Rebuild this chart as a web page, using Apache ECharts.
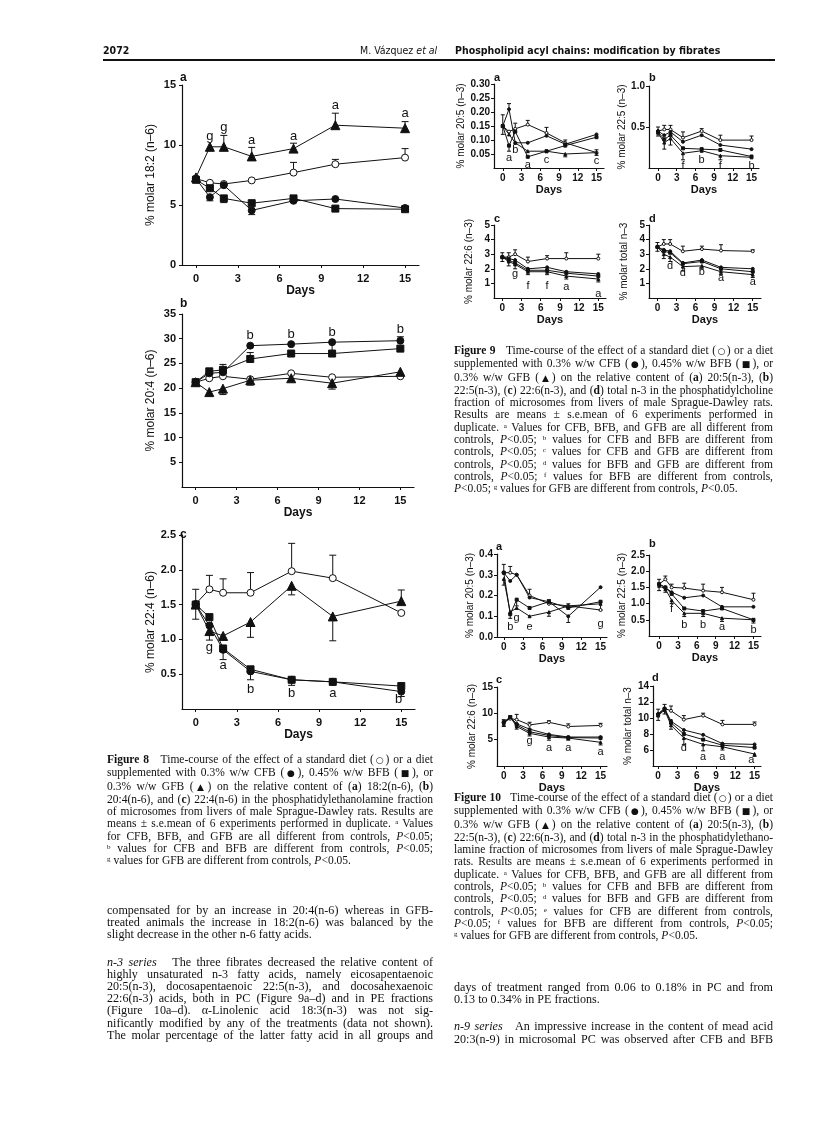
<!DOCTYPE html>
<html>
<head>
<meta charset="utf-8">
<script src="https://cdn.jsdelivr.net/npm/echarts@6/dist/echarts.min.js"></script>
<style>
html, body { margin: 0; padding: 0; background: #fff; }
#page { position: relative; width: 816px; height: 1147px; overflow: hidden; }
#chart { position: absolute; left: 0; top: 0; width: 816px; height: 1147px; }
.hdr { position: absolute; font-family: "Liberation Sans Narrow", "DejaVu Sans Condensed", "Liberation Sans", sans-serif; font-size: 10.5px; color: #111; white-space: nowrap; }
.rule { position: absolute; left: 103px; top: 59px; width: 672px; height: 1.5px; background: #111; }
.txt { position: absolute; font-family: "Liberation Serif", "DejaVu Serif", serif; color: #111; }
.txt div { text-align: justify; text-align-last: justify; white-space: nowrap; }
.txt div.end { text-align-last: left; word-spacing: 0; }
.cap { font-size: 11.5px; line-height: 12.3px; word-spacing: -0.8px; }
.body { font-size: 12.1px; line-height: 12.2px; word-spacing: -1px; }
.sup { font-size: 7px; vertical-align: 3px; line-height: 0; }
.sym { font-family: "DejaVu Sans", sans-serif; font-size: 9px; }
.gap { height: 15px; }
</style>
</head>
<body>
<div id="page">
  <div id="chart"></div>

  <div class="hdr" style="left:103px;top:44px;font-weight:bold;">2072</div>
  <div class="hdr" style="left:360px;top:44px;">M. Vázquez <i>et al</i></div>
  <div class="hdr" style="left:455px;top:44px;font-weight:bold;">Phospholipid acyl chains: modification by fibrates</div>
  <div class="rule"></div>

  <div class="txt cap" style="left:107px;top:753px;width:326px;">
    <div><b>Figure 8</b>&nbsp;&nbsp; Time-course of the effect of a standard diet (<span class="sym">○</span>) or a diet</div>
    <div>supplemented with 0.3% w/w CFB (<span class="sym">●</span>), 0.45% w/w BFB (<span class="sym">■</span>), or</div>
    <div>0.3% w/w GFB (<span class="sym">▲</span>) on the relative content of (<b>a</b>) 18:2(n-6), (<b>b</b>)</div>
    <div>20:4(n-6), and (<b>c</b>) 22:4(n-6) in the phosphatidylethanolamine fraction</div>
    <div>of microsomes from livers of male Sprague-Dawley rats. Results are</div>
    <div>means ± s.e.mean of 6 experiments performed in duplicate. <span class="sup">a</span> Values</div>
    <div>for CFB, BFB, and GFB are all different from controls, <i>P</i>&lt;0.05;</div>
    <div><span class="sup">b</span> values for CFB and BFB are different from controls, <i>P</i>&lt;0.05;</div>
    <div class="end"><span class="sup">g</span> values for GFB are different from controls, <i>P</i>&lt;0.05.</div>
  </div>

  <div class="txt body" style="left:107px;top:904px;width:326px;">
    <div>compensated for by an increase in 20:4(n-6) whereas in GFB-</div>
    <div>treated animals the increase in 18:2(n-6) was balanced by the</div>
    <div class="end">slight decrease in the other n-6 fatty acids.</div>
    <div class="gap"></div>
    <div><i>n-3 series</i>&nbsp;&nbsp; The three fibrates decreased the relative content of</div>
    <div>highly unsaturated n-3 fatty acids, namely eicosapentaenoic</div>
    <div>20:5(n-3), docosapentaenoic 22:5(n-3), and docosahexaenoic</div>
    <div>22:6(n-3) acids, both in PC (Figure 9a–d) and in PE fractions</div>
    <div>(Figure 10a–d). α-Linolenic acid 18:3(n-3) was not sig-</div>
    <div>nificantly modified by any of the treatments (data not shown).</div>
    <div>The molar percentage of the latter fatty acid in all groups and</div>
  </div>

  <div class="txt cap" style="left:454px;top:344px;width:319px;">
    <div><b>Figure 9</b>&nbsp;&nbsp; Time-course of the effect of a standard diet (<span class="sym">○</span>) or a diet</div>
    <div>supplemented with 0.3% w/w CFB (<span class="sym">●</span>), 0.45% w/w BFB (<span class="sym">■</span>), or</div>
    <div>0.3% w/w GFB (<span class="sym">▲</span>) on the relative content of (<b>a</b>) 20:5(n-3), (<b>b</b>)</div>
    <div>22:5(n-3), (<b>c</b>) 22:6(n-3), and (<b>d</b>) total n-3 in the phosphatidylcholine</div>
    <div>fraction of microsomes from livers of male Sprague-Dawley rats.</div>
    <div>Results are means ± s.e.mean of 6 experiments performed in</div>
    <div>duplicate. <span class="sup">a</span> Values for CFB, BFB, and GFB are all different from</div>
    <div>controls, <i>P</i>&lt;0.05; <span class="sup">b</span> values for CFB and BFB are different from</div>
    <div>controls, <i>P</i>&lt;0.05; <span class="sup">c</span> values for CFB and GFB are different from</div>
    <div>controls, <i>P</i>&lt;0.05; <span class="sup">d</span> values for BFB and GFB are different from</div>
    <div>controls, <i>P</i>&lt;0.05; <span class="sup">f</span> values for BFB are different from controls,</div>
    <div class="end"><i>P</i>&lt;0.05; <span class="sup">g</span> values for GFB are different from controls, <i>P</i>&lt;0.05.</div>
  </div>

  <div class="txt cap" style="left:454px;top:791px;width:319px;">
    <div><b>Figure 10</b>&nbsp;&nbsp; Time-course of the effect of a standard diet (<span class="sym">○</span>) or a diet</div>
    <div>supplemented with 0.3% w/w CFB (<span class="sym">●</span>), 0.45% w/w BFB (<span class="sym">■</span>), or</div>
    <div>0.3% w/w GFB (<span class="sym">▲</span>) on the relative content of (<b>a</b>) 20:5(n-3), (<b>b</b>)</div>
    <div>22:5(n-3), (<b>c</b>) 22:6(n-3), and (<b>d</b>) total n-3 in the phosphatidylethano-</div>
    <div>lamine fraction of microsomes from livers of male Sprague-Dawley</div>
    <div>rats. Results are means ± s.e.mean of 6 experiments performed in</div>
    <div>duplicate. <span class="sup">a</span> Values for CFB, BFB, and GFB are all different from</div>
    <div>controls, <i>P</i>&lt;0.05; <span class="sup">b</span> values for CFB and BFB are different from</div>
    <div>controls, <i>P</i>&lt;0.05; <span class="sup">d</span> values for BFB and GFB are different from</div>
    <div>controls, <i>P</i>&lt;0.05; <span class="sup">e</span> values for CFB are different from controls,</div>
    <div><i>P</i>&lt;0.05; <span class="sup">f</span> values for BFB are different from controls, <i>P</i>&lt;0.05;</div>
    <div class="end"><span class="sup">g</span> values for GFB are different from controls, <i>P</i>&lt;0.05.</div>
  </div>

  <div class="txt body" style="left:454px;top:981px;width:319px;">
    <div>days of treatment ranged from 0.06 to 0.18% in PC and from</div>
    <div class="end">0.13 to 0.34% in PE fractions.</div>
    <div class="gap"></div>
    <div><i>n-9 series</i>&nbsp;&nbsp; An impressive increase in the content of mead acid</div>
    <div>20:3(n-9) in microsomal PC was observed after CFB and BFB</div>
  </div>
</div>

<script>
// sampling days, same for every panel
var days = [0, 1, 2, 4, 7, 10, 15];
var xTicks = [0, 3, 6, 9, 12, 15];

// Figure 8a  18:2(n-6), PE
var f8a_ctl = [7.2, 6.85, 6.75, 7.05, 7.7, 8.4, 8.95];
var f8a_cfb = [7.2, 5.65, 6.65, 4.55, 5.35, 5.5, 4.75];
var f8a_bfb = [7.1, 6.4, 5.55, 5.15, 5.55, 4.7, 4.65];
var f8a_gfb = [7.3, 9.85, 9.85, 9.05, 9.7, 11.65, 11.4];
// s.e.m., sign = side of the whisker that is drawn
var f8a_ctl_se = [0, 0, 0, 0, 0.85, 0.4, 0.75];
var f8a_cfb_se = [0, -0.3, 0, -0.35, 0, 0, -0.3];
var f8a_bfb_se = [0, 0, -0.35, 0, -0.3, -0.2, -0.2];
var f8a_gfb_se = [0, 0, 0.95, 0.75, 0.45, 1.0, 0.55];
var f8a_sig = [[1, 10.7, 'g'], [2, 11.5, 'g'], [4, 10.4, 'a'], [7, 10.7, 'a'], [10, 13.3, 'a'], [15, 12.6, 'a']];

// Figure 8b  20:4(n-6), PE
var f8b_ctl = [21.2, 22.0, 22.4, 21.8, 23.0, 22.2, 22.4];
var f8b_cfb = [21.2, 23.0, 23.2, 28.6, 28.9, 29.3, 29.6];
var f8b_bfb = [21.2, 23.4, 23.7, 25.9, 27.0, 27.0, 28.0];
var f8b_gfb = [21.2, 19.2, 19.9, 21.6, 22.0, 21.0, 23.3];
var f8b_ctl_se = [0, 0, 0, 0, 0, 0, 0];
var f8b_cfb_se = [0, 0, 0, 0, 0, -2.0, 0.8];
var f8b_bfb_se = [0, 0, 1.1, 1.3, 0, 0, 0];
var f8b_gfb_se = [0, 0, -1.2, -1.0, 0, -1.2, 0];
var f8b_sig = [[4, 30.7, 'b'], [7, 30.9, 'b'], [10, 31.2, 'b'], [15, 31.9, 'b']];

// Figure 8c  22:4(n-6), PE
var f8c_ctl = [1.51, 1.72, 1.67, 1.67, 1.98, 1.88, 1.38];
var f8c_cfb = [1.5, 1.2, 0.85, 0.54, 0.42, 0.39, 0.25];
var f8c_bfb = [1.5, 1.32, 0.87, 0.57, 0.42, 0.39, 0.33];
var f8c_gfb = [1.5, 1.12, 1.05, 1.25, 1.77, 1.33, 1.55];
var f8c_ctl_se = [0.21, 0.2, 0.2, 0.29, 0.4, 0.33, 0];
var f8c_cfb_se = [0, 0, -0.14, -0.12, -0.08, -0.04, -0.07];
var f8c_bfb_se = [0, 0, 0, 0, 0, 0, 0];
var f8c_gfb_se = [-0.21, -0.13, 0, -0.22, -0.13, -0.35, 0.16];
var f8c_sig = [[1, 0.88, 'g'], [2, 0.63, 'a'], [4, 0.28, 'b'], [7, 0.22, 'b'], [10, 0.22, 'a'], [14.8, 0.14, 'b']];

// Figure 9a  20:5(n-3), PC
var f9a_ctl = [0.15, 0.13, 0.14, 0.155, 0.125, 0.09, 0.055];
var f9a_cfb = [0.15, 0.21, 0.09, 0.09, 0.115, 0.085, 0.12];
var f9a_bfb = [0.15, 0.08, 0.13, 0.04, 0.06, 0.08, 0.11];
var f9a_gfb = [0.15, 0.12, 0.09, 0.06, 0.06, 0.05, 0.055];
var f9a_ctl_se = [0.04, 0, 0.02, 0.015, 0.02, 0.01, 0.01];
var f9a_cfb_se = [0, 0.02, 0, 0, 0, 0, 0];
var f9a_bfb_se = [-0.03, -0.02, 0, 0, 0, 0, 0];
var f9a_gfb_se = [0, 0, 0, 0, 0, -0.01, -0.01];
var f9a_sig = [[1, 0.035, 'a'], [2, 0.065, 'b'], [4, 0.012, 'a'], [7, 0.03, 'c'], [15, 0.025, 'c']];

// Figure 9b  22:5(n-3), PC
var f9b_ctl = [0.45, 0.47, 0.47, 0.37, 0.45, 0.34, 0.34];
var f9b_cfb = [0.45, 0.40, 0.44, 0.32, 0.40, 0.28, 0.23];
var f9b_bfb = [0.44, 0.35, 0.40, 0.24, 0.23, 0.22, 0.14];
var f9b_gfb = [0.43, 0.31, 0.36, 0.18, 0.21, 0.15, 0.13];
var f9b_ctl_se = [0.05, 0.05, 0.05, 0.07, 0.03, 0.06, 0.05];
var f9b_cfb_se = [0, 0, 0, 0, 0, 0, 0];
var f9b_bfb_se = [0, 0, 0, 0, 0, 0, 0];
var f9b_gfb_se = [-0.04, -0.08, -0.08, -0.08, 0, -0.05, 0];
var f9b_sig = [[4, 0.03, 'f'], [7, 0.1, 'b'], [10, 0.03, 'f'], [15, 0.03, 'b']];

// Figure 9c  22:6(n-3), PC
var f9c_ctl = [2.8, 2.8, 3.0, 2.5, 2.7, 2.7, 2.7];
var f9c_cfb = [2.8, 2.7, 2.6, 2.0, 2.1, 1.8, 1.65];
var f9c_bfb = [2.8, 2.6, 2.4, 1.9, 1.9, 1.7, 1.5];
var f9c_gfb = [2.8, 2.5, 2.3, 1.8, 1.8, 1.5, 1.3];
var f9c_ctl_se = [0.3, 0.3, 0.3, 0.3, 0.2, 0.4, 0.3];
var f9c_cfb_se = [0, 0, 0, 0, 0, 0, 0];
var f9c_bfb_se = [0, 0, 0, 0, 0, 0, 0];
var f9c_gfb_se = [-0.3, -0.3, -0.3, -0.2, -0.2, -0.2, -0.2];
var f9c_sig = [[2, 1.65, 'g'], [4, 0.85, 'f'], [7, 0.85, 'f'], [10, 0.75, 'a'], [15, 0.25, 'a']];

// Figure 9d  total n-3, PC
var f9d_ctl = [3.5, 3.7, 3.7, 3.2, 3.35, 3.25, 3.2];
var f9d_cfb = [3.5, 3.3, 3.2, 2.4, 2.6, 2.1, 2.0];
var f9d_bfb = [3.5, 3.2, 3.1, 2.35, 2.5, 2.0, 1.8];
var f9d_gfb = [3.5, 3.0, 2.8, 2.15, 2.2, 1.8, 1.6];
var f9d_ctl_se = [0.3, 0.3, 0.3, 0.35, 0.2, 0.4, 0.1];
var f9d_cfb_se = [0, 0, 0, 0, 0, 0, 0];
var f9d_bfb_se = [0, 0, 0, 0, 0, 0, 0];
var f9d_gfb_se = [-0.3, -0.3, -0.3, -0.3, -0.2, -0.2, -0.2];
var f9d_sig = [[2, 2.2, 'd'], [4, 1.7, 'd'], [7, 1.8, 'b'], [10, 1.4, 'a'], [15, 1.1, 'a']];

// Figure 10a  20:5(n-3), PE
var f10a_ctl = [0.31, 0.31, 0.30, 0.20, 0.16, 0.15, 0.13];
var f10a_cfb = [0.31, 0.27, 0.30, 0.19, 0.17, 0.10, 0.24];
var f10a_bfb = [0.31, 0.11, 0.18, 0.14, 0.17, 0.14, 0.17];
var f10a_gfb = [0.28, 0.12, 0.14, 0.10, 0.12, 0.15, 0.16];
var f10a_ctl_se = [0.04, 0.03, 0, 0.03, 0.02, 0.01, 0];
var f10a_cfb_se = [0, 0, 0, 0, 0, -0.03, 0];
var f10a_bfb_se = [0, -0.02, -0.03, 0, 0, 0, 0];
var f10a_gfb_se = [-0.03, 0, 0, 0, -0.02, 0, -0.03];
var f10a_sig = [[1, 0.05, 'b'], [2, 0.09, 'g'], [4, 0.05, 'e'], [15, 0.065, 'g']];

// Figure 10b  22:5(n-3), PE
var f10b_ctl = [1.6, 1.75, 1.5, 1.48, 1.4, 1.35, 1.12];
var f10b_cfb = [1.6, 1.5, 1.35, 1.18, 1.25, 0.9, 0.9];
var f10b_bfb = [1.6, 1.5, 1.3, 0.85, 0.77, 0.85, 0.5];
var f10b_gfb = [1.55, 1.45, 1.1, 0.7, 0.7, 0.55, 0.5];
var f10b_ctl_se = [0.15, 0.1, 0.1, 0.15, 0.2, 0.15, 0.2];
var f10b_cfb_se = [0, 0, 0, 0, 0, 0, 0];
var f10b_bfb_se = [0, 0, 0, 0, 0, 0, 0];
var f10b_gfb_se = [-0.15, -0.1, -0.1, -0.1, -0.1, -0.1, -0.1];
var f10b_sig = [[2, 0.82, 'f'], [4, 0.34, 'b'], [7, 0.34, 'b'], [10, 0.27, 'a'], [15, 0.2, 'b']];

// Figure 10c  22:6(n-3), PE
var f10c_ctl = [8.3, 9.0, 8.8, 7.8, 8.3, 7.5, 7.7];
var f10c_cfb = [8.3, 9.3, 8.0, 7.0, 6.0, 5.5, 5.5];
var f10c_bfb = [8.3, 9.3, 7.8, 6.5, 5.8, 5.4, 5.3];
var f10c_gfb = [8.0, 9.3, 7.5, 6.2, 5.5, 5.3, 4.5];
var f10c_ctl_se = [0.5, 0.5, 1.0, 0.5, 0.3, 0.5, 0.4];
var f10c_cfb_se = [0, 0, 0, 0, 0, 0, 0];
var f10c_bfb_se = [0, 0, 0, 0, 0, 0, 0];
var f10c_gfb_se = [-0.5, -0.5, -0.5, -0.5, -0.6, -0.4, -0.5];
var f10c_sig = [[4, 4.7, 'g'], [7, 3.5, 'a'], [10, 3.5, 'a'], [15, 2.7, 'a']];

// Figure 10d  total n-3, PE
var f10d_ctl = [10.5, 11.2, 10.9, 9.8, 10.3, 9.2, 9.2];
var f10d_cfb = [10.5, 11.2, 9.6, 8.5, 7.9, 6.8, 6.7];
var f10d_bfb = [10.4, 11.1, 9.4, 8.0, 7.3, 6.6, 6.3];
var f10d_gfb = [10.3, 11.0, 9.1, 7.5, 6.7, 6.4, 5.5];
var f10d_ctl_se = [0.6, 0.5, 0.6, 0.5, 0.3, 0.5, 0.3];
var f10d_cfb_se = [0, 0, 0, 0, 0, 0, 0];
var f10d_bfb_se = [0, 0, 0, 0, 0, 0, 0];
var f10d_gfb_se = [-0.6, -0.5, -0.5, -0.8, -0.8, -0.4, -0.3];
var f10d_sig = [[2, 9.2, 'f'], [4, 6.2, 'd'], [7, 5.1, 'a'], [10, 5.1, 'a'], [14.5, 4.8, 'a']];

var panelData = {
  f8a: [f8a_ctl, f8a_cfb, f8a_bfb, f8a_gfb, f8a_ctl_se, f8a_cfb_se, f8a_bfb_se, f8a_gfb_se, f8a_sig],
  f8b: [f8b_ctl, f8b_cfb, f8b_bfb, f8b_gfb, f8b_ctl_se, f8b_cfb_se, f8b_bfb_se, f8b_gfb_se, f8b_sig],
  f8c: [f8c_ctl, f8c_cfb, f8c_bfb, f8c_gfb, f8c_ctl_se, f8c_cfb_se, f8c_bfb_se, f8c_gfb_se, f8c_sig],
  f9a: [f9a_ctl, f9a_cfb, f9a_bfb, f9a_gfb, f9a_ctl_se, f9a_cfb_se, f9a_bfb_se, f9a_gfb_se, f9a_sig],
  f9b: [f9b_ctl, f9b_cfb, f9b_bfb, f9b_gfb, f9b_ctl_se, f9b_cfb_se, f9b_bfb_se, f9b_gfb_se, f9b_sig],
  f9c: [f9c_ctl, f9c_cfb, f9c_bfb, f9c_gfb, f9c_ctl_se, f9c_cfb_se, f9c_bfb_se, f9c_gfb_se, f9c_sig],
  f9d: [f9d_ctl, f9d_cfb, f9d_bfb, f9d_gfb, f9d_ctl_se, f9d_cfb_se, f9d_bfb_se, f9d_gfb_se, f9d_sig],
  f10a: [f10a_ctl, f10a_cfb, f10a_bfb, f10a_gfb, f10a_ctl_se, f10a_cfb_se, f10a_bfb_se, f10a_gfb_se, f10a_sig],
  f10b: [f10b_ctl, f10b_cfb, f10b_bfb, f10b_gfb, f10b_ctl_se, f10b_cfb_se, f10b_bfb_se, f10b_gfb_se, f10b_sig],
  f10c: [f10c_ctl, f10c_cfb, f10c_bfb, f10c_gfb, f10c_ctl_se, f10c_cfb_se, f10c_bfb_se, f10c_gfb_se, f10c_sig],
  f10d: [f10d_ctl, f10d_cfb, f10d_bfb, f10d_gfb, f10d_ctl_se, f10d_cfb_se, f10d_bfb_se, f10d_gfb_se, f10d_sig]
};

// layout of each small plot (pixels) and its axes
var panels = [
  {key: 'f8a', left: 182, top: 85, width: 237, height: 180, xMin: -1, xMax: 16, yMin: 0, yMax: 15, yStep: 5, dec: 0, showMin: true, big: true, yName: '% molar 18:2 (n–6)', tag: 'a', tx: 183, ty: 79},
  {key: 'f8b', left: 182, top: 314, width: 232, height: 173, xMin: -1, xMax: 16, yMin: 0, yMax: 35, yStep: 5, dec: 0, showMin: false, big: true, yName: '% molar 20:4 (n–6)', tag: 'b', tx: 183, ty: 305},
  {key: 'f8c', left: 182, top: 535, width: 233, height: 174, xMin: -1, xMax: 16, yMin: 0, yMax: 2.5, yStep: 0.5, dec: 1, showMin: false, big: true, yName: '% molar 22:4 (n–6)', tag: 'c', tx: 183, ty: 536},
  {key: 'f9a', left: 494, top: 84, width: 110, height: 84, xMin: -1.4, xMax: 16.2, yMin: 0, yMax: 0.3, yStep: 0.05, dec: 2, showMin: false, big: false, yName: '% molar 20:5 (n–3)', tag: 'a', tx: 497, ty: 79},
  {key: 'f9b', left: 649, top: 86, width: 110, height: 82, xMin: -1.45, xMax: 16.2, yMin: 0, yMax: 1.0, yStep: 0.5, dec: 1, showMin: false, big: false, yName: '% molar 22:5 (n–3)', tag: 'b', tx: 652, ty: 79},
  {key: 'f9c', left: 494, top: 225, width: 112, height: 73, xMin: -1.3, xMax: 16.2, yMin: 0, yMax: 5, yStep: 1, dec: 0, showMin: false, big: false, yName: '% molar 22:6 (n–3)', tag: 'c', tx: 497, ty: 220},
  {key: 'f9d', left: 649, top: 225, width: 112, height: 73, xMin: -1.33, xMax: 16.3, yMin: 0, yMax: 5, yStep: 1, dec: 0, showMin: false, big: false, yName: '% molar total n–3', tag: 'd', tx: 652, ty: 220},
  {key: 'f10a', left: 497, top: 554, width: 110, height: 83, xMin: -1.05, xMax: 16, yMin: 0, yMax: 0.4, yStep: 0.1, dec: 1, showMin: true, big: false, yName: '% molar 20:5 (n–3)', tag: 'a', tx: 499, ty: 548},
  {key: 'f10b', left: 649, top: 555, width: 112, height: 81, xMin: -1.6, xMax: 16.2, yMin: 0, yMax: 2.5, yStep: 0.5, dec: 1, showMin: false, big: false, yName: '% molar 22:5 (n–3)', tag: 'b', tx: 652, ty: 545},
  {key: 'f10c', left: 497, top: 687, width: 110, height: 79, xMin: -1.05, xMax: 16, yMin: 0, yMax: 15, yStep: 5, dec: 0, showMin: false, big: false, yName: '% molar 22:6 (n–3)', tag: 'c', tx: 499, ty: 681},
  {key: 'f10d', left: 653, top: 686, width: 108, height: 80, xMin: -0.8, xMax: 16, yMin: 4, yMax: 14, yStep: 2, dec: 0, showMin: false, big: false, yName: '% molar total n–3', tag: 'd', tx: 655, ty: 679}
];

var groups = [
  {symbol: 'circle', fill: '#fff'},   // control
  {symbol: 'circle', fill: '#111'},   // CFB
  {symbol: 'rect', fill: '#111'},     // BFB
  {symbol: 'triangle', fill: '#111'}  // GFB
];

var SANS = '"Liberation Sans", Arial, sans-serif';

function errItem(cap) {
  return function (params, api) {
    var x = api.value(0), y = api.value(1), e = api.value(2);
    var p0 = api.coord([x, y]);
    var p1 = api.coord([x, y + e]);
    return {
      type: 'group',
      children: [
        {type: 'line', shape: {x1: p0[0], y1: p0[1], x2: p1[0], y2: p1[1]}, style: {stroke: '#111', lineWidth: 1}},
        {type: 'line', shape: {x1: p1[0] - cap, y1: p1[1], x2: p1[0] + cap, y2: p1[1]}, style: {stroke: '#111', lineWidth: 1}}
      ]
    };
  };
}

function sigItem(list, size) {
  return function (params, api) {
    var p = api.coord([api.value(0), api.value(1)]);
    return {
      type: 'text', x: p[0], y: p[1],
      style: {text: list[params.dataIndex][2], fill: '#111', font: size + 'px ' + SANS, align: 'center', verticalAlign: 'middle'}
    };
  };
}

var grid = [], xAxis = [], yAxis = [], series = [], graphic = [];

panels.forEach(function (p, i) {
  var d = panelData[p.key];
  var tickSize = p.big ? 11 : 10;
  grid.push({left: p.left, top: p.top, width: p.width, height: p.height, outerBoundsMode: 'none'});
  xAxis.push({
    type: 'value', gridIndex: i, min: p.xMin, max: p.xMax,
    name: 'Days', nameLocation: 'middle', nameGap: p.big ? 20 : 16,
    nameTextStyle: {fontFamily: SANS, fontSize: p.big ? 12 : 11, fontWeight: 'bold', color: '#111'},
    axisLine: {show: true, onZero: false, lineStyle: {color: '#111', width: 1.2}},
    axisTick: {show: true, customValues: xTicks, length: 3, lineStyle: {color: '#111'}},
    axisLabel: {customValues: xTicks, margin: p.big ? 8 : 5, fontFamily: SANS, fontSize: tickSize, fontWeight: 'bold', color: '#111'},
    splitLine: {show: false}
  });
  yAxis.push({
    type: 'value', gridIndex: i, min: p.yMin, max: p.yMax, interval: p.yStep,
    name: p.yName, nameLocation: 'middle', nameRotate: 90, nameGap: p.big ? 25 : 20,
    nameTextStyle: {fontFamily: SANS, fontSize: p.big ? 12 : 10, color: '#111'},
    axisLine: {show: true, onZero: false, lineStyle: {color: '#111', width: 1.2}},
    axisTick: {show: true, length: 3, lineStyle: {color: '#111'}},
    axisLabel: {
      showMinLabel: p.showMin, margin: p.big ? 6 : 4,
      fontFamily: SANS, fontSize: tickSize, fontWeight: 'bold', color: '#111',
      formatter: function (v) { return v.toFixed(p.dec); }
    },
    splitLine: {show: false}
  });

  groups.forEach(function (g, k) {
    var vals = d[k], se = d[k + 4];
    series.push({
      type: 'line', xAxisIndex: i, yAxisIndex: i,
      data: days.map(function (x, j) { return [x, vals[j]]; }),
      symbol: g.symbol,
      symbolSize: p.big ? (g.symbol === 'triangle' ? 9 : 7) : 3,
      lineStyle: {color: '#111', width: 1},
      itemStyle: {color: g.fill, borderColor: '#111', borderWidth: 1},
      z: 3, silent: true
    });
    series.push({
      type: 'custom', xAxisIndex: i, yAxisIndex: i,
      renderItem: errItem(p.big ? 3.5 : 2),
      data: days.map(function (x, j) { return [x, vals[j], se[j]]; }).filter(function (r) { return r[2] !== 0; }),
      z: 2, silent: true
    });
  });

  var sig = d[8];
  series.push({
    type: 'custom', xAxisIndex: i, yAxisIndex: i,
    renderItem: sigItem(sig, p.big ? 13 : 11),
    data: sig.map(function (r) { return [r[0], r[1]]; }),
    z: 4, silent: true
  });

  graphic.push({
    type: 'text', left: p.tx - 3, top: p.ty - 7,
    style: {text: p.tag, font: 'bold ' + (p.big ? 12 : 11) + 'px ' + SANS, fill: '#111'}
  });
});

var chart = echarts.init(document.getElementById('chart'), null, {renderer: 'canvas'});
chart.setOption({
  animation: false,
  backgroundColor: 'transparent',
  grid: grid,
  xAxis: xAxis,
  yAxis: yAxis,
  series: series,
  graphic: graphic
});
</script>
</body>
</html>
